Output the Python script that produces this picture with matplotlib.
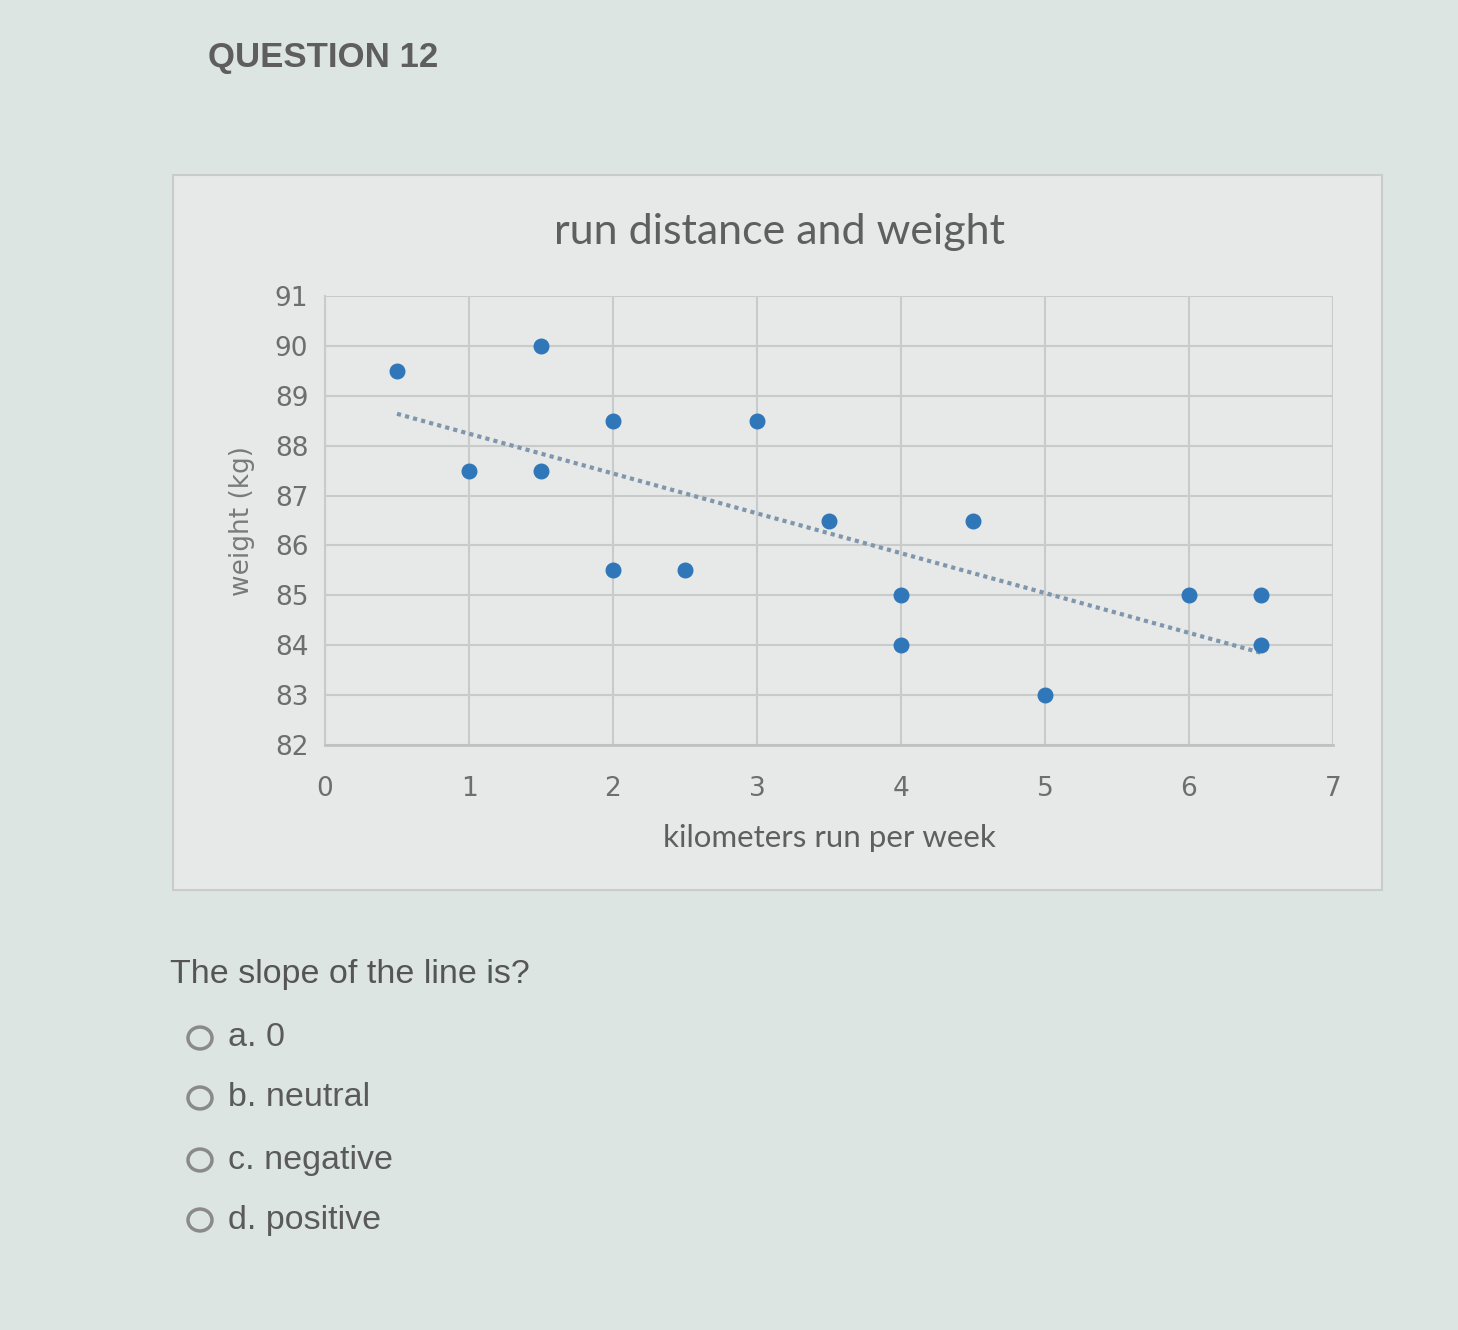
import numpy as np
import matplotlib.pyplot as plt
from matplotlib.patches import Rectangle, Circle

W, H = 1458, 1330

# data
km = [0.5, 1, 1.5, 1.5, 2, 2, 2.5, 3, 3.5, 4, 4, 4.5, 5, 6, 6.5, 6.5]
kg = [89.5, 87.5, 90, 87.5, 88.5, 85.5, 85.5, 88.5, 86.5, 85, 84, 86.5, 83, 85, 85, 84]
xticks = [0, 1, 2, 3, 4, 5, 6, 7]
yticks = [82, 83, 84, 85, 86, 87, 88, 89, 90, 91]
options = ['a. 0', 'b. neutral', 'c. negative', 'd. positive']

bg = '#dde5e3'
chart_bg = '#e6e9e8'
txt = '#6e6e6e'

fig = plt.figure(figsize=(W / 100, H / 100), dpi=100, facecolor=bg)

def fx(px):
    return px / W

def fy(py):
    return 1 - py / H

# chart frame
fig.patches.append(Rectangle((fx(173), fy(890)), fx(1382) - fx(173), fy(175) - fy(890),
                             transform=fig.transFigure, facecolor=chart_bg,
                             edgecolor='#c9cccb', lw=1.5, zorder=-5))

fig.text(fx(208), fy(57), 'QUESTION 12', fontsize=25, color='#5e5e5e',
         family='Liberation Sans', fontweight='bold', va='center', ha='left')

ax = fig.add_axes([fx(325), fy(745), fx(1333) - fx(325), fy(296) - fy(745)])
ax.set_zorder(2)
ax.set_facecolor(chart_bg)
ax.scatter(km, kg, s=110, color='#2f77b9', zorder=3)

# linear trendline
m, b = np.polyfit(km, kg, 1)
tx = np.array([min(km), max(km)])
ax.plot(tx, m * tx + b, ls=(0, (1, 1)), lw=3, color='#7f96ad', zorder=2)

ax.set_xlim(0, 7)
ax.set_ylim(82, 91)
ax.set_xticks(xticks)
ax.set_yticks(yticks)
ax.grid(True, color='#c8cbca', lw=1.5)
ax.set_axisbelow(True)
for s in ['top', 'right']:
    ax.spines[s].set_visible(False)
ax.spines['left'].set_color('#c8cbca')
ax.spines['bottom'].set_color('#bfc2c1')
ax.spines['left'].set_linewidth(1.5)
ax.spines['bottom'].set_linewidth(2)
ax.tick_params(length=0, labelsize=19, colors=txt, pad=12)
ax.tick_params(axis='x', pad=22)

fig.text(fx(779), fy(232), 'run distance and weight', fontsize=31, color='#5f5f5f',
         family='Lato', ha='center', va='center')
ax.set_xlabel('kilometers run per week', fontsize=22.5, color='#5f5f5f',
              family='Lato', labelpad=16)
ax.set_ylabel('weight (kg)', fontsize=19, color='#7a7a7a', labelpad=14)

fig.text(fx(170), fy(975), 'The slope of the line is?', fontsize=24.5, color='#555555',
         family='Liberation Sans', va='center', ha='left')

oy = [1038, 1098, 1160, 1220]
for lab, y in zip(options, oy):
    fig.patches.append(Circle((fx(200), fy(y)), 12 / W, transform=fig.transFigure,
                              facecolor='none', edgecolor='#8a8a8a', lw=2.5))
    fig.text(fx(228), fy(y), lab, fontsize=24.5, color='#5a5a5a',
             family='Liberation Sans', va='center', ha='left')

fig.savefig('out.png', dpi=100, facecolor=bg)
